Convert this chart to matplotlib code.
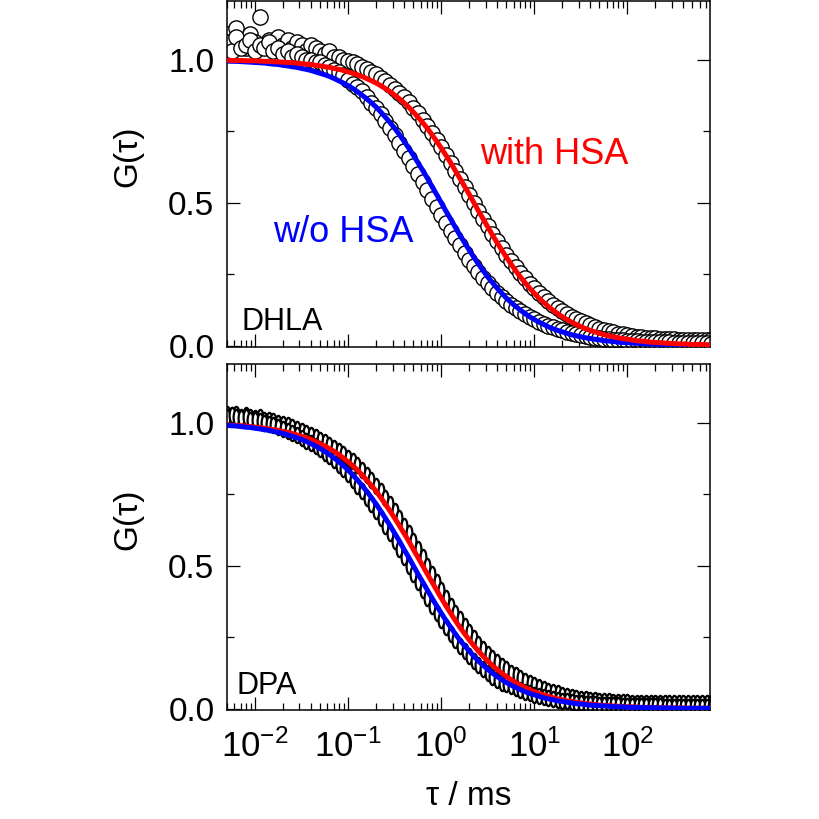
import numpy as np
import matplotlib
matplotlib.use("Agg")
import matplotlib.pyplot as plt
from matplotlib.path import Path
from matplotlib.ticker import FixedLocator, FormatStrFormatter, LogLocator

plt.rcParams['font.family'] = ['Liberation Sans', 'DejaVu Sans']
plt.rcParams['mathtext.fontset'] = 'custom'
plt.rcParams['mathtext.rm'] = 'Liberation Sans'
plt.rcParams['mathtext.it'] = 'Liberation Sans:italic'

# lag times (ms)
tau = [0.00501, 0.00562, 0.00631, 0.00708, 0.00794, 0.00891, 0.0100, 0.0112, 0.0126, 0.0141,
       0.0158, 0.0178, 0.0200, 0.0224, 0.0251, 0.0282, 0.0316, 0.0355, 0.0398, 0.0447,
       0.0501, 0.0562, 0.0631, 0.0708, 0.0794, 0.0891, 0.100, 0.112, 0.126, 0.141,
       0.158, 0.178, 0.200, 0.224, 0.251, 0.282, 0.316, 0.355, 0.398, 0.447,
       0.501, 0.562, 0.631, 0.708, 0.794, 0.891, 1.00, 1.12, 1.26, 1.41,
       1.58, 1.78, 2.00, 2.24, 2.51, 2.82, 3.16, 3.55, 3.98, 4.47,
       5.01, 5.62, 6.31, 7.08, 7.94, 8.91, 10.0, 11.2, 12.6, 14.1,
       15.8, 17.8, 20.0, 22.4, 25.1, 28.2, 31.6, 35.5, 39.8, 44.7,
       50.1, 56.2, 63.1, 70.8, 79.4, 89.1, 100, 112, 126, 141,
       158, 178, 200, 224, 251, 282, 316, 355, 398, 447,
       501, 562, 631, 708, 794]

# DHLA panel
dhla_wo_data = [1.06, 1.03, 1.08, 1.04, 1.05, 1.07, 1.03, 1.05, 1.04, 1.06,
                1.03, 1.04, 1.02, 1.03, 1.01, 1.02, 1.01, 1.00, 1.00, 0.99,
                0.99, 0.98, 0.975, 0.965, 0.955, 0.945, 0.93, 0.915, 0.905, 0.89,
                0.87, 0.85, 0.83, 0.81, 0.785, 0.76, 0.735, 0.71, 0.682, 0.655,
                0.628, 0.600, 0.572, 0.543, 0.514, 0.486, 0.457, 0.430, 0.402, 0.375,
                0.350, 0.325, 0.301, 0.279, 0.258, 0.238, 0.219, 0.201, 0.185, 0.170,
                0.156, 0.143, 0.131, 0.120, 0.110, 0.100, 0.092, 0.084, 0.077, 0.070,
                0.064, 0.058, 0.053, 0.048, 0.044, 0.040, 0.036, 0.033, 0.030, 0.028,
                0.026, 0.024, 0.022, 0.021, 0.019, 0.018, 0.017, 0.016, 0.015, 0.014,
                0.014, 0.013, 0.012, 0.012, 0.011, 0.011, 0.010, 0.010, 0.009, 0.009,
                0.009, 0.008, 0.008, 0.008, 0.007]
dhla_with_data = [1.09, 1.05, 1.11, 1.07, 1.04, 1.09, 1.06, 1.15, 1.05, 1.07,
                  1.06, 1.08, 1.05, 1.07, 1.04, 1.06, 1.05, 1.03, 1.05, 1.04,
                  1.03, 1.02, 1.03, 1.01, 1.01, 1.00, 0.995, 0.99, 0.985, 0.975,
                  0.968, 0.958, 0.948, 0.937, 0.925, 0.912, 0.898, 0.884, 0.868, 0.851,
                  0.832, 0.812, 0.790, 0.768, 0.744, 0.719, 0.693, 0.666, 0.639, 0.611,
                  0.583, 0.555, 0.527, 0.499, 0.471, 0.444, 0.417, 0.391, 0.366, 0.341,
                  0.317, 0.295, 0.274, 0.254, 0.235, 0.217, 0.200, 0.184, 0.170, 0.156,
                  0.143, 0.131, 0.120, 0.110, 0.101, 0.093, 0.085, 0.078, 0.071, 0.065,
                  0.059, 0.054, 0.050, 0.046, 0.042, 0.039, 0.036, 0.033, 0.031, 0.029,
                  0.027, 0.026, 0.025, 0.024, 0.023, 0.022, 0.022, 0.021, 0.021, 0.020,
                  0.020, 0.020, 0.019, 0.019, 0.019]
dhla_wo_fit = [0.995, 0.994, 0.994, 0.993, 0.992, 0.991, 0.990, 0.989, 0.988, 0.986,
               0.984, 0.983, 0.980, 0.978, 0.975, 0.973, 0.969, 0.966, 0.962, 0.957,
               0.952, 0.947, 0.941, 0.934, 0.926, 0.918, 0.909, 0.899, 0.888, 0.876,
               0.863, 0.849, 0.834, 0.817, 0.799, 0.780, 0.760, 0.738, 0.715, 0.691,
               0.666, 0.640, 0.613, 0.586, 0.557, 0.529, 0.500, 0.471, 0.443, 0.415,
               0.387, 0.360, 0.334, 0.309, 0.285, 0.262, 0.240, 0.220, 0.201, 0.183,
               0.166, 0.151, 0.137, 0.124, 0.112, 0.101, 0.091, 0.082, 0.074, 0.066,
               0.059, 0.053, 0.048, 0.043, 0.038, 0.034, 0.031, 0.027, 0.025, 0.022,
               0.020, 0.017, 0.016, 0.014, 0.012, 0.011, 0.010, 0.009, 0.008, 0.007,
               0.006, 0.006, 0.005, 0.004, 0.004, 0.004, 0.003, 0.003, 0.003, 0.002,
               0.002, 0.002, 0.002, 0.001, 0.001]
dhla_with_fit = [0.998, 0.997, 0.997, 0.997, 0.996, 0.996, 0.996, 0.995, 0.994, 0.994,
                 0.993, 0.992, 0.991, 0.990, 0.989, 0.988, 0.986, 0.984, 0.983, 0.980,
                 0.978, 0.975, 0.973, 0.969, 0.966, 0.962, 0.957, 0.952, 0.947, 0.941,
                 0.934, 0.926, 0.918, 0.909, 0.899, 0.888, 0.876, 0.863, 0.849, 0.834,
                 0.817, 0.799, 0.780, 0.760, 0.738, 0.715, 0.691, 0.666, 0.640, 0.613,
                 0.586, 0.557, 0.529, 0.500, 0.471, 0.443, 0.415, 0.387, 0.360, 0.334,
                 0.309, 0.285, 0.262, 0.240, 0.220, 0.201, 0.183, 0.166, 0.151, 0.137,
                 0.124, 0.112, 0.101, 0.091, 0.082, 0.074, 0.066, 0.059, 0.053, 0.048,
                 0.043, 0.038, 0.034, 0.031, 0.027, 0.025, 0.022, 0.020, 0.017, 0.016,
                 0.014, 0.012, 0.011, 0.010, 0.009, 0.008, 0.007, 0.006, 0.006, 0.005,
                 0.004, 0.004, 0.004, 0.003, 0.003]

# DPA panel
dpa_wo_data = [1.02, 1.025, 1.02, 1.015, 1.02, 1.01, 1.01, 1.005, 1.00, 0.995,
               0.99, 0.985, 0.978, 0.97, 0.963, 0.955, 0.946, 0.937, 0.928, 0.918,
               0.907, 0.895, 0.882, 0.868, 0.853, 0.837, 0.819, 0.800, 0.780, 0.760,
               0.738, 0.715, 0.691, 0.666, 0.640, 0.613, 0.586, 0.557, 0.529, 0.500,
               0.471, 0.443, 0.415, 0.387, 0.360, 0.334, 0.309, 0.285, 0.262, 0.240,
               0.220, 0.201, 0.183, 0.166, 0.151, 0.137, 0.124, 0.112, 0.101, 0.091,
               0.086, 0.078, 0.071, 0.064, 0.058, 0.053, 0.048, 0.043, 0.039, 0.036,
               0.032, 0.030, 0.027, 0.025, 0.022, 0.021, 0.019, 0.017, 0.016, 0.015,
               0.014, 0.013, 0.012, 0.011, 0.011, 0.010, 0.010, 0.009, 0.009, 0.009,
               0.008, 0.008, 0.008, 0.008, 0.007, 0.007, 0.007, 0.007, 0.007, 0.006,
               0.006, 0.006, 0.006, 0.006, 0.006]
dpa_with_data = [1.03, 1.025, 1.03, 1.02, 1.025, 1.02, 1.015, 1.02, 1.01, 1.01,
                 1.005, 1.00, 0.995, 0.99, 0.985, 0.978, 0.971, 0.964, 0.957, 0.949,
                 0.940, 0.931, 0.921, 0.911, 0.900, 0.889, 0.877, 0.864, 0.850, 0.835,
                 0.817, 0.799, 0.780, 0.760, 0.738, 0.715, 0.691, 0.666, 0.640, 0.613,
                 0.586, 0.557, 0.529, 0.500, 0.471, 0.443, 0.415, 0.387, 0.360, 0.334,
                 0.312, 0.289, 0.267, 0.246, 0.227, 0.209, 0.192, 0.176, 0.162, 0.149,
                 0.137, 0.126, 0.116, 0.106, 0.098, 0.090, 0.082, 0.075, 0.069, 0.063,
                 0.058, 0.053, 0.049, 0.045, 0.041, 0.038, 0.035, 0.033, 0.031, 0.029,
                 0.027, 0.026, 0.025, 0.024, 0.023, 0.022, 0.022, 0.021, 0.021, 0.020,
                 0.020, 0.020, 0.019, 0.019, 0.019, 0.019, 0.019, 0.018, 0.018, 0.018,
                 0.018, 0.018, 0.018, 0.018, 0.018]
dpa_wo_fit = [0.990, 0.989, 0.988, 0.986, 0.984, 0.983, 0.980, 0.978, 0.975, 0.973,
              0.969, 0.966, 0.962, 0.957, 0.952, 0.947, 0.941, 0.934, 0.926, 0.918,
              0.909, 0.899, 0.888, 0.876, 0.863, 0.849, 0.834, 0.817, 0.799, 0.780,
              0.760, 0.738, 0.715, 0.691, 0.666, 0.640, 0.613, 0.586, 0.557, 0.529,
              0.500, 0.471, 0.443, 0.415, 0.387, 0.360, 0.334, 0.309, 0.285, 0.262,
              0.240, 0.220, 0.201, 0.183, 0.166, 0.151, 0.137, 0.124, 0.112, 0.101,
              0.091, 0.082, 0.074, 0.066, 0.059, 0.053, 0.048, 0.043, 0.038, 0.034,
              0.031, 0.027, 0.025, 0.022, 0.020, 0.017, 0.016, 0.014, 0.012, 0.011,
              0.010, 0.009, 0.008, 0.007, 0.006, 0.006, 0.005, 0.004, 0.004, 0.004,
              0.003, 0.003, 0.003, 0.002, 0.002, 0.002, 0.002, 0.001, 0.001, 0.001,
              0.001, 0.001, 0.001, 0.001, 0.001]
dpa_with_fit = [0.992, 0.991, 0.990, 0.989, 0.988, 0.986, 0.984, 0.983, 0.980, 0.978,
                0.975, 0.973, 0.969, 0.966, 0.962, 0.957, 0.952, 0.947, 0.941, 0.934,
                0.926, 0.918, 0.909, 0.899, 0.888, 0.876, 0.863, 0.849, 0.834, 0.817,
                0.799, 0.780, 0.760, 0.738, 0.715, 0.691, 0.666, 0.640, 0.613, 0.586,
                0.557, 0.529, 0.500, 0.471, 0.443, 0.415, 0.387, 0.360, 0.334, 0.309,
                0.285, 0.262, 0.240, 0.220, 0.201, 0.183, 0.166, 0.151, 0.137, 0.124,
                0.112, 0.101, 0.091, 0.082, 0.074, 0.066, 0.059, 0.053, 0.048, 0.043,
                0.038, 0.034, 0.031, 0.027, 0.025, 0.022, 0.020, 0.017, 0.016, 0.014,
                0.012, 0.011, 0.010, 0.009, 0.008, 0.007, 0.006, 0.006, 0.005, 0.004,
                0.004, 0.004, 0.003, 0.003, 0.003, 0.002, 0.002, 0.002, 0.002, 0.001,
                0.001, 0.001, 0.001, 0.001, 0.001]

# narrow upright oval marker used for the DPA points
circ = Path.unit_circle()
oval = Path(circ.vertices * np.array([0.38, 1.0]), circ.codes)

fig = plt.figure(figsize=(8.2, 8.19), dpi=100)
ax1 = fig.add_axes([0.2768, 0.5763, 0.589, 0.4225])
ax2 = fig.add_axes([0.2768, 0.1331, 0.589, 0.4225])


def style(ax, show_x):
    ax.set_xscale('log')
    ax.set_xlim(0.005, 770)
    ax.set_ylim(-0.005, 1.205)
    ax.yaxis.set_major_locator(FixedLocator([0.0, 0.5, 1.0]))
    ax.yaxis.set_minor_locator(FixedLocator([0.25, 0.75]))
    ax.yaxis.set_major_formatter(FormatStrFormatter('%.1f'))
    ax.xaxis.set_major_locator(LogLocator(base=10, numticks=20))
    ax.xaxis.set_minor_locator(LogLocator(base=10, subs=np.arange(2, 10), numticks=20))
    ax.tick_params(which='both', direction='in', top=True, right=True, width=0.9)
    ax.tick_params(which='major', length=9.5)
    ax.tick_params(which='minor', length=4.8)
    ax.tick_params(axis='y', labelsize=24, pad=9)
    ax.tick_params(axis='x', labelsize=25, pad=14, labelbottom=show_x)
    for s in ax.spines.values():
        s.set_linewidth(1.1)
    ax.set_ylabel('G(τ)', fontsize=24)
    ax.yaxis.set_label_coords(-0.174, 0.55)


style(ax1, False)
style(ax2, True)

ax1.plot(tau, dhla_with_data, 'o', ms=11, mfc='white', mec='black', mew=1.0, zorder=2)
ax1.plot(tau, dhla_wo_data, 'o', ms=11, mfc='white', mec='black', mew=1.0, zorder=2)
ax1.plot(tau, dhla_wo_fit, color='#0000ff', lw=3.6, zorder=3)
ax1.plot(tau, dhla_with_fit, color='#ff0000', lw=3.6, zorder=3)

ax2.plot(tau, dpa_with_data, marker=oval, ls='none', ms=11, mfc='white', mec='black', mew=1.6, zorder=2)
ax2.plot(tau, dpa_wo_data, marker=oval, ls='none', ms=11, mfc='white', mec='black', mew=1.6, zorder=2)
ax2.plot(tau, dpa_with_fit, color='#ff0000', lw=3.6, zorder=3)
ax2.plot(tau, dpa_wo_fit, color='#0000ff', lw=3.6, zorder=3)

ax1.text(0.524, 0.530, 'with HSA', color='#ff0000', fontsize=26, transform=ax1.transAxes)
ax1.text(0.095, 0.303, 'w/o HSA', color='#0000ff', fontsize=26, transform=ax1.transAxes)
ax1.text(0.031, 0.049, 'DHLA', fontsize=22, transform=ax1.transAxes)
ax2.text(0.019, 0.046, 'DPA', fontsize=22, transform=ax2.transAxes)

ax2.set_xlabel('τ / ms', fontsize=24)
ax2.xaxis.set_label_coords(0.5, -0.205)

fig.savefig('out.png', dpi=100, facecolor='white')
